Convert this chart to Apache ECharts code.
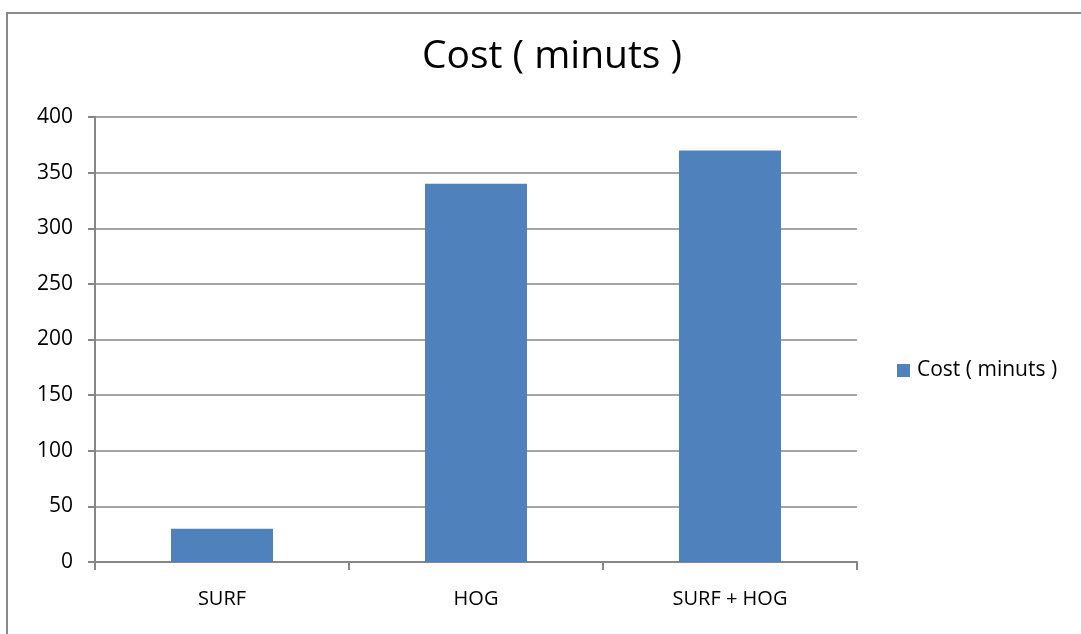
<!DOCTYPE html>
<html>
<head>
<meta charset="utf-8">
<script src="https://cdn.jsdelivr.net/npm/echarts@6/dist/echarts.min.js"></script>
<style>
html,body{margin:0;padding:0;background:#fff;}
#chart{width:1081px;height:634px;}
</style>
</head>
<body>
<div id="chart"></div>
<script>
var categories = ['SURF', 'HOG', 'SURF + HOG'];
var costValues = [30, 340, 370];
var seriesName = 'Cost ( minuts )';
var titleText = 'Cost ( minuts )';

var chart = echarts.init(document.getElementById('chart'));
var fontFam = '"Open Sans", "Liberation Sans", sans-serif';
chart.setOption({
  backgroundColor: '#ffffff',
  animation: false,
  graphic: [{
    type: 'rect',
    shape: {x: 7, y: 13, width: 1200, height: 800},
    style: {fill: 'none', stroke: '#8a8a8a', lineWidth: 2},
    silent: true, z: 0
  }],
  title: {
    text: titleText,
    left: 547, top: 32,
    textAlign: 'center',
    textStyle: {fontFamily: fontFam, fontSize: 39, fontWeight: 'normal', color: '#000'}
  },
  legend: {
    data: [seriesName],
    left: 892, top: 355,
    icon: 'rect', itemWidth: 13, itemHeight: 13, itemGap: 8,
    textStyle: {fontFamily: fontFam, fontSize: 21, color: '#000', padding: [0,0,0,2]}
  },
  grid: {left: 95, right: 224, top: 117, bottom: 72},
  xAxis: {
    type: 'category',
    data: categories,
    axisLine: {lineStyle: {color: '#868686', width: 2}},
    axisTick: {show: true, length: 8, lineStyle: {color: '#868686', width: 2}},
    axisLabel: {fontFamily: fontFam, fontSize: 20, color: '#000', margin: 27}
  },
  yAxis: {
    type: 'value',
    min: 0, max: 400, interval: 50,
    axisLine: {show: true, lineStyle: {color: '#868686', width: 2}},
    axisTick: {show: true, length: 7, lineStyle: {color: '#868686', width: 2}},
    axisLabel: {fontFamily: fontFam, fontSize: 21, color: '#000', margin: 22},
    splitLine: {lineStyle: {color: '#868686', width: 1.5}}
  },
  series: [{
    name: seriesName,
    type: 'bar',
    data: costValues,
    barWidth: 102,
    itemStyle: {color: '#4f81bd'}
  }]
});
</script>
</body>
</html>
